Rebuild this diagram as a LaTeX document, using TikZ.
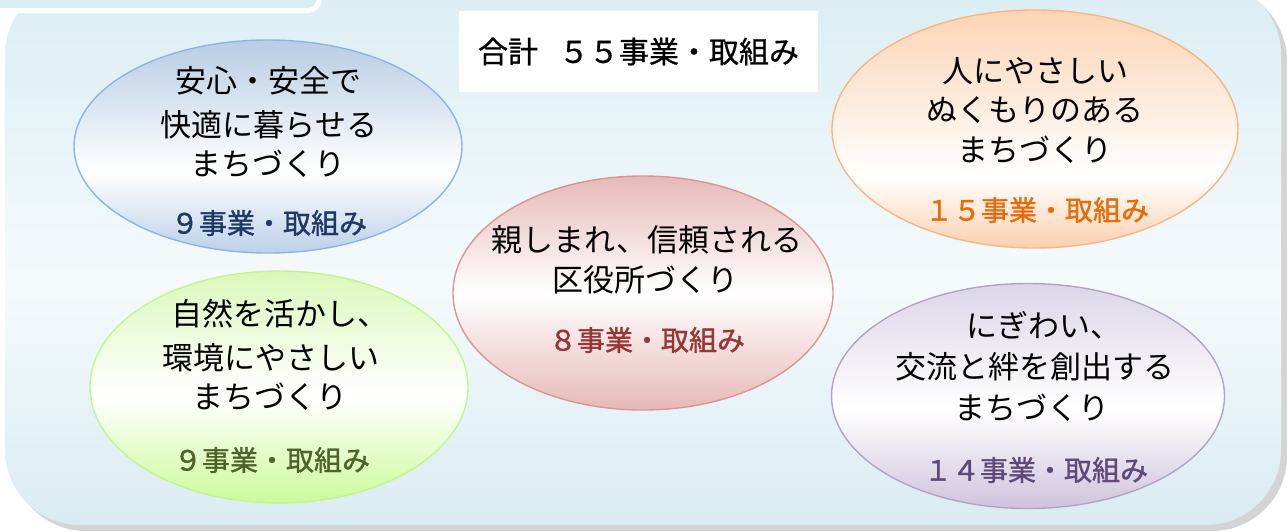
\documentclass[tikz,border=0pt]{standalone}
\usepackage{fontspec}
\newfontfamily\jp{Noto Sans CJK JP}
\newfontfamily\jpb[FakeBold=1.2]{Noto Sans CJK JP}
\newfontfamily\jpt[FakeBold=0.8]{Noto Sans CJK JP}
\usetikzlibrary{shapes.geometric}
\definecolor{panelT}{HTML}{DAEDF3}
\definecolor{panelM}{HTML}{F5FAFC}
\definecolor{panelB}{HTML}{D9EBF2}
\definecolor{shadowc}{HTML}{D4D4D4}
\definecolor{blueT}{HTML}{B8CCE4}
\definecolor{blueB}{HTML}{BCD0E8}
\definecolor{blueD}{HTML}{8EB4E3}
\definecolor{blueK}{HTML}{1F3864}
\definecolor{oraT}{HTML}{FBD4B4}
\definecolor{oraB}{HTML}{FAD0AE}
\definecolor{oraD}{HTML}{F9B67F}
\definecolor{oraK}{HTML}{E46C0A}
\definecolor{redT}{HTML}{E6B9B8}
\definecolor{redB}{HTML}{E6B9B8}
\definecolor{redD}{HTML}{D99694}
\definecolor{redK}{HTML}{953735}
\definecolor{grnT}{HTML}{DAF8BA}
\definecolor{grnB}{HTML}{CCFA9A}
\definecolor{grnD}{HTML}{C3F58F}
\definecolor{grnK}{HTML}{4F6228}
\definecolor{purT}{HTML}{DDD5E8}
\definecolor{purB}{HTML}{CFC3DD}
\definecolor{purD}{HTML}{B3A2C7}
\definecolor{purK}{HTML}{5F497A}
\pgfdeclareverticalshading{panelsh}{100bp}{color(0bp)=(panelB); color(25bp)=(panelB); color(47bp)=(panelM); color(75bp)=(panelT); color(100bp)=(panelT)}
\pgfdeclareverticalshading{bluesh}{100bp}{color(0bp)=(blueB); color(25bp)=(blueB); color(44bp)=(white); color(75bp)=(blueT); color(100bp)=(blueT)}
\pgfdeclareverticalshading{orash}{100bp}{color(0bp)=(oraB); color(25bp)=(oraB); color(40bp)=(white); color(75bp)=(oraT); color(100bp)=(oraT)}
\pgfdeclareverticalshading{redsh}{100bp}{color(0bp)=(redB); color(25bp)=(redB); color(50bp)=(white); color(75bp)=(redT); color(100bp)=(redT)}
\pgfdeclareverticalshading{grnsh}{100bp}{color(0bp)=(grnB); color(25bp)=(grnB); color(48bp)=(white); color(75bp)=(grnT); color(100bp)=(grnT)}
\pgfdeclareverticalshading{pursh}{100bp}{color(0bp)=(purB); color(25bp)=(purB); color(47bp)=(white); color(75bp)=(purT); color(100bp)=(purT)}
\tikzset{
  ell/.style={ellipse, inner sep=0pt, line width=1.4pt},
  mainline/.style={inner sep=0pt, font=\jp\fontsize{31}{36}\selectfont, text=black},
  countline/.style={inner sep=0pt, font=\jpb\fontsize{28}{32}\selectfont},
  titlebox/.style={fill=white, inner sep=0pt, minimum width=359pt, minimum height=81pt, font=\jpt\fontsize{30}{34}\selectfont}
}
\begin{document}
\begin{tikzpicture}[x=1pt,y=-1pt]
\useasboundingbox (0,0) rectangle (1287,531);
\clip (0,0) rectangle (1287,531);
% panel shadow and panel
\fill[shadowc, rounded corners=75pt] (11,-14) rectangle (1287,531);
\path[shading=panelsh, rounded corners=75pt] (5,-20) rectangle (1281,525);
% top-left tab
\draw[line width=5pt, draw=white, fill=panelT, rounded corners=12pt] (-30,-30) rectangle (319.5,10.5);
% title
\node[titlebox] (title) at (638.5,51.5) {合計\hspace{0.7em}５５事業・取組み};
% blue ellipse
\node[ell, shading=bluesh, draw=blueD, minimum width=388pt, minimum height=213pt] (e1) at (268,146.5) {};
\node[mainline] (e1a) at (268,81) {安心・安全で};
\node[mainline] (e1b) at (269,125) {快適に暮らせる};
\node[mainline] (e1c) at (268,164) {まちづくり};
\node[countline, text=blueK] (e1n) at (269,223) {９事業・取組み};
% orange ellipse
\node[ell, shading=orash, draw=oraD, minimum width=406pt, minimum height=238pt] (e2) at (1035,129) {};
\node[mainline] (e2a) at (1035,71) {人にやさしい};
\node[mainline] (e2b) at (1035,110) {ぬくもりのある};
\node[mainline] (e2c) at (1035,150) {まちづくり};
\node[countline, text=oraK] (e2n) at (1037,210) {１５事業・取組み};
% red ellipse
\node[ell, shading=redsh, draw=redD, minimum width=380pt, minimum height=234pt] (e3) at (643,293) {};
\node[mainline] (e3a) at (647,240) {親しまれ、信頼される};
\node[mainline] (e3b) at (645,280) {区役所づくり};
\node[countline, text=redK] (e3n) at (647,340) {８事業・取組み};
% green ellipse
\node[ell, shading=grnsh, draw=grnD, minimum width=378pt, minimum height=232pt] (e4) at (279,387) {};
\node[mainline] (e4a) at (280,314) {自然を活かし、};
\node[mainline] (e4b) at (271,358) {環境にやさしい};
\node[mainline] (e4c) at (270,397) {まちづくり};
\node[countline, text=grnK] (e4n) at (272,460) {９事業・取組み};
% purple ellipse
\node[ell, shading=pursh, draw=purD, minimum width=393pt, minimum height=225pt] (e5) at (1028,396) {};
\node[mainline] (e5a) at (1044,325) {にぎわい、};
\node[mainline] (e5b) at (1035,367) {交流と絆を創出する};
\node[mainline] (e5c) at (1032,408) {まちづくり};
\node[countline, text=purK] (e5n) at (1036,470) {１４事業・取組み};
\end{tikzpicture}
\end{document}
